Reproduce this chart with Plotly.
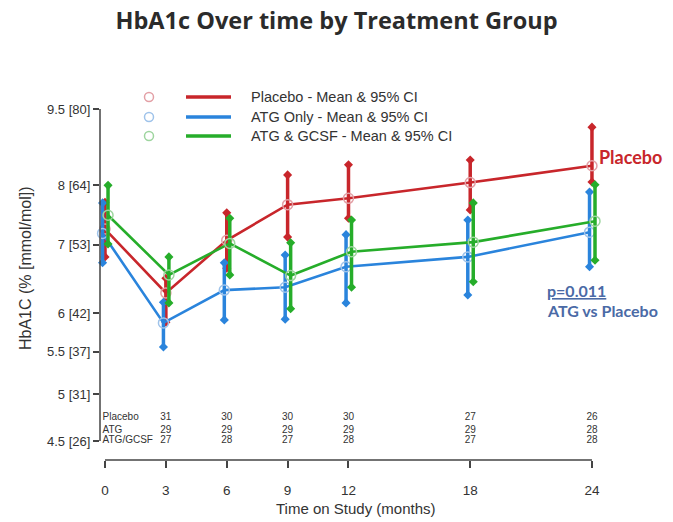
import math
import plotly.graph_objects as go

# ---------------- data ----------------
months = [0, 3, 6, 9, 12, 18, 24]

placebo_mean = [7.25, 6.28, 7.07, 7.66, 7.77, 8.05, 8.36]
placebo_lo = [6.81, 5.88, 6.64, 7.12, 7.43, 7.57, 8.06]
placebo_hi = [7.70, 6.49, 7.52, 8.19, 8.38, 8.47, 9.12]

atg_mean = [7.18, 5.87, 6.32, 6.36, 6.66, 6.81, 7.20]
atg_lo = [6.72, 5.56, 5.91, 5.92, 6.14, 6.25, 6.66]
atg_hi = [7.69, 6.15, 6.72, 6.84, 7.16, 7.40, 7.88]

gcsf_mean = [7.48, 6.54, 7.02, 6.53, 6.89, 7.04, 7.38]
gcsf_lo = [7.01, 6.14, 6.54, 6.06, 6.36, 6.44, 6.76]
gcsf_hi = [8.00, 6.81, 7.43, 7.03, 7.40, 7.69, 8.01]

n_months = [3, 6, 9, 12, 18, 24]
n_placebo = [31, 30, 30, 30, 27, 26]
n_atg = [29, 29, 29, 29, 29, 28]
n_gcsf = [27, 28, 27, 28, 27, 28]
n_labels = ["Placebo", "ATG", "ATG/GCSF"]

ytick_vals = [4.5, 5, 5.5, 6, 7, 8, 9.5]
ytick_text = ["4.5 [26]", "5 [31]", "5.5 [37]", "6 [42]", "7 [53]", "8 [64]", "9.5 [80]"]
xtick_vals = [0, 3, 6, 9, 12, 18, 24]

legend_names = ["Placebo - Mean & 95% CI", "ATG Only - Mean & 95% CI", "ATG & GCSF - Mean & 95% CI"]

# ---------------- styling ----------------
RED, BLUE, GREEN = "#c8262b", "#2a84dc", "#26ad2a"
RED_L, BLUE_L, GREEN_L = "#e3a0a6", "#9fc3ea", "#9ed59f"
TXT = "#333333"
AX = "#444444"
SANS = "Liberation Sans"

groups = [
    ("Placebo", placebo_mean, placebo_lo, placebo_hi, RED, RED_L, 0.0),
    ("ATG", atg_mean, atg_lo, atg_hi, BLUE, BLUE_L, -0.12),
    ("ATG/GCSF", gcsf_mean, gcsf_lo, gcsf_hi, GREEN, GREEN_L, 0.15),
]

fig = go.Figure()

for name, mean, lo, hi, col, col_l, dx in groups:
    xs = [m + dx for m in months]
    fig.add_trace(go.Scatter(x=xs, y=mean, mode="lines",
                             line=dict(color=col, width=2.6),
                             showlegend=False, hoverinfo="skip", cliponaxis=False))
    cx, cy = [], []
    for x, l, h in zip(xs, lo, hi):
        cx += [x, x, None]
        cy += [l, h, None]
    fig.add_trace(go.Scatter(x=cx, y=cy, mode="lines+markers",
                             line=dict(color=col, width=3.5),
                             marker=dict(symbol="diamond", size=7, color=col),
                             showlegend=False, hoverinfo="skip", cliponaxis=False))
    fig.add_trace(go.Scatter(x=xs, y=mean, mode="markers",
                             marker=dict(symbol="circle-open", size=10, color=col_l,
                                         line=dict(width=1.5, color=col_l)),
                             showlegend=False, hoverinfo="skip", cliponaxis=False))

# n at risk table
row_y = [4.74, 4.61, 4.5]
for ry, counts, lab in zip(row_y, [n_placebo, n_atg, n_gcsf], n_labels):
    fig.add_trace(go.Scatter(x=n_months, y=[ry] * len(n_months), mode="text",
                             text=[str(c) for c in counts],
                             textfont=dict(family=SANS, size=10, color=TXT),
                             showlegend=False, hoverinfo="skip", cliponaxis=False))
    fig.add_trace(go.Scatter(x=[-0.12], y=[ry], mode="text", text=[lab],
                             textposition="middle right",
                             textfont=dict(family=SANS, size=10, color=TXT),
                             showlegend=False, hoverinfo="skip", cliponaxis=False))

# ---------------- layout ----------------
L, R, T, B = 100, 63, 100, 62
W, H = 673, 522
pw, ph = W - L - R, H - T - B


def px_x(p):
    return (p - L) / pw


def px_y(p):
    return (H - B - p) / ph


x0_px = 105
scale = 20.29
xr = [(L - x0_px) / scale, (W - R - x0_px) / scale]
ytop = math.log10(9.5) + (109 - T) / 1023
ybot = ytop - ph / 1023


def data_x_paper(v):
    return (v - xr[0]) / (xr[1] - xr[0])


def data_y_paper(v):
    return (math.log10(v) - ybot) / (ytop - ybot)


shapes = [
    dict(type="line", xref="paper", yref="paper", x0=0, x1=0,
         y0=data_y_paper(4.5), y1=data_y_paper(9.5), line=dict(color=AX, width=1.5)),
    dict(type="line", xref="paper", yref="paper", x0=data_x_paper(0), x1=data_x_paper(24),
         y0=0, y1=0, line=dict(color=AX, width=1.5)),
]

annotations = []
leg_rows = [97, 117, 136]
for ly, col, col_l, txt in zip(leg_rows, [RED, BLUE, GREEN], [RED_L, BLUE_L, GREEN_L], legend_names):
    shapes.append(dict(type="circle", xref="paper", yref="paper",
                       xsizemode="pixel", ysizemode="pixel",
                       xanchor=px_x(149), yanchor=px_y(ly),
                       x0=-4.5, x1=4.5, y0=-4.5, y1=4.5,
                       line=dict(color=col_l, width=1.5)))
    shapes.append(dict(type="line", xref="paper", yref="paper",
                       x0=px_x(186), x1=px_x(231), y0=px_y(ly), y1=px_y(ly),
                       line=dict(color=col, width=3.5)))
    annotations.append(dict(xref="paper", yref="paper", x=px_x(249), y=px_y(ly),
                            text=txt, showarrow=False, xanchor="left", yanchor="middle",
                            font=dict(family=SANS, size=14.5, color=TXT)))

annotations += [
    dict(xref="paper", yref="paper", x=px_x(25), y=px_y(268),
         text="HbA1C (% [mmol/mol])", textangle=-90, showarrow=False,
         xanchor="center", yanchor="middle",
         font=dict(family=SANS, size=16, color=TXT)),
    dict(xref="paper", yref="paper", x=px_x(356), y=px_y(508),
         text="Time on Study (months)", showarrow=False,
         xanchor="center", yanchor="middle",
         font=dict(family=SANS, size=15, color=TXT)),
    dict(xref="paper", yref="paper", x=px_x(597), y=px_y(157),
         text="<b>Placebo</b>", showarrow=False, xanchor="left", yanchor="middle",
         font=dict(family="Lato", size=18, color=RED)),
    dict(xref="paper", yref="paper", x=px_x(545), y=px_y(290),
         text="<b><u>p=0.011</u></b>", showarrow=False, xanchor="left", yanchor="middle",
         font=dict(family="Lato", size=16, color="#4a6aa6")),
    dict(xref="paper", yref="paper", x=px_x(545), y=px_y(310),
         text="<b>ATG vs Placebo</b>", showarrow=False, xanchor="left", yanchor="middle",
         font=dict(family="Lato", size=16, color="#4a6aa6")),
]

fig.update_layout(
    width=W, height=H,
    margin=dict(l=L, r=R, t=T, b=B, autoexpand=False),
    paper_bgcolor="white", plot_bgcolor="white",
    title=dict(text="<b>HbA1c Over time by Treatment Group</b>",
               x=0.5, xanchor="center", y=1 - 21 / H, yanchor="middle", yref="container",
               font=dict(family="Open Sans", size=23.5, color="#2b2b2b")),
    xaxis=dict(range=xr, tickvals=xtick_vals, ticks="outside", ticklen=7,
               tickcolor=AX, tickwidth=1.5, showgrid=False, zeroline=False,
               showline=False, ticklabelstandoff=11, automargin=False,
               tickfont=dict(family=SANS, size=13.5, color=TXT)),
    yaxis=dict(type="log", range=[ybot, ytop], tickvals=ytick_vals, ticktext=ytick_text,
               ticks="outside", ticklen=6, tickcolor=AX, tickwidth=1.5, automargin=False,
               showgrid=False, zeroline=False, showline=False,
               tickfont=dict(family=SANS, size=13, color=TXT)),
    shapes=shapes,
    annotations=annotations,
    showlegend=False,
)

fig.write_html("out.html",
               config={"displayModeBar": False},
               post_script="document.body.style.margin='0px';document.body.style.overflow='hidden';")
